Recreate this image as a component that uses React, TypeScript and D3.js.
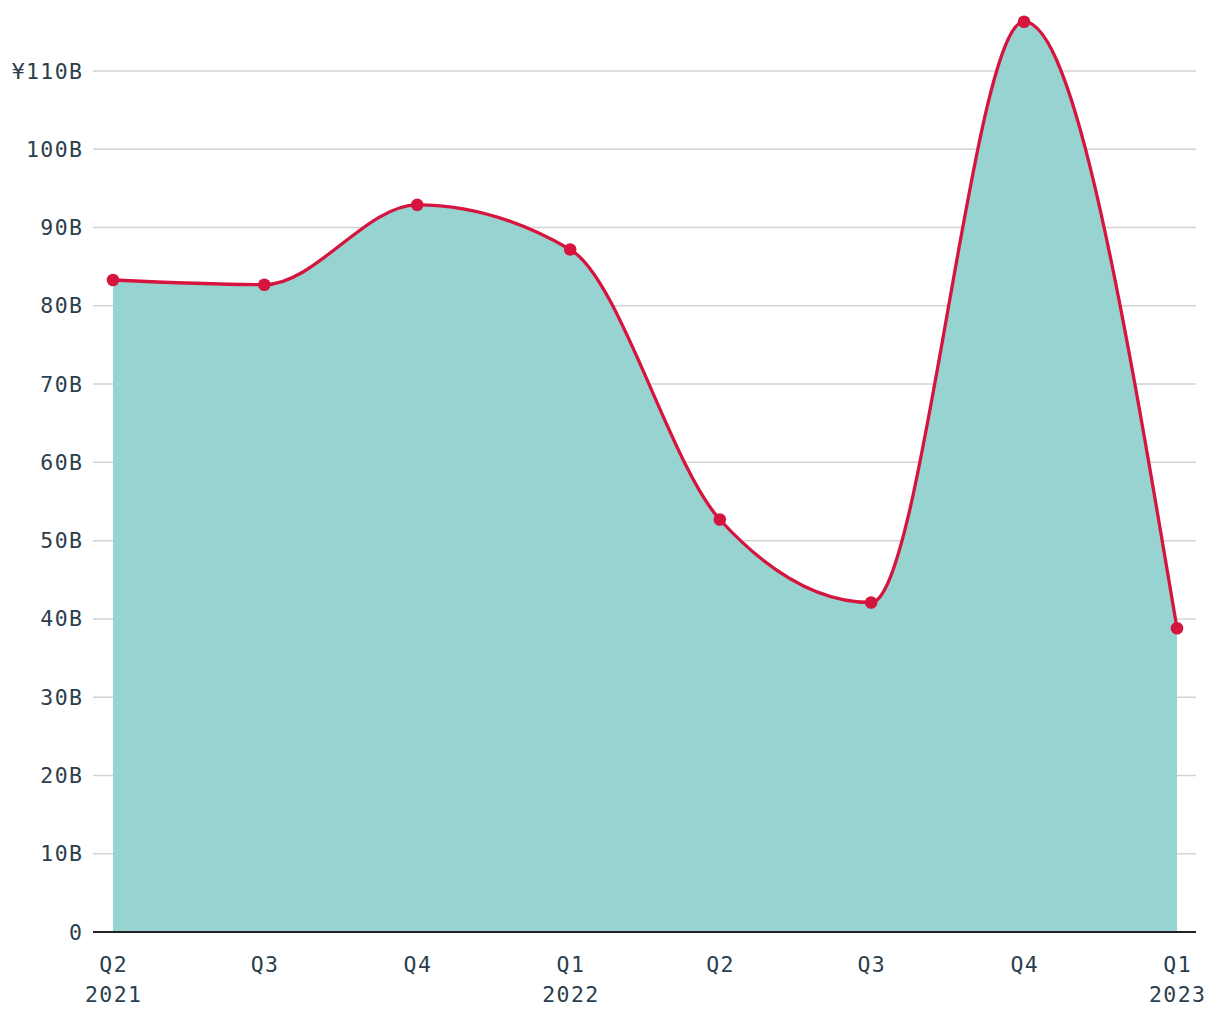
import React from "react";
import * as d3 from "d3";

const quarterStarts = ["2021-04-01", "2021-07-01", "2021-10-01", "2022-01-01", "2022-04-01", "2022-07-01", "2022-10-01", "2023-01-01"];
const quarters = ["Q2", "Q3", "Q4", "Q1", "Q2", "Q3", "Q4", "Q1"];
const years = ["2021", "", "", "2022", "", "", "", "2023"];
const values = [83.3, 82.7, 92.9, 87.2, 52.7, 42.1, 116.3, 38.8];
const yTicks = [0, 10, 20, 30, 40, 50, 60, 70, 80, 90, 100, 110];

export default function App() {
  const W = 1220, H = 1020;
  const left = 93, right = 1196, top = 71, bottom = 932;
  const dates = quarterStarts.map(s => new Date(s + "T00:00:00Z"));
  const x = d3.scaleUtc().domain([dates[0], dates[dates.length - 1]]).range([113, 1177]);
  const y = d3.scaleLinear().domain([0, 110]).range([bottom, top]);
  const area = d3.area<number>().x((_, i) => x(dates[i])).y0(y(0)).y1(d => y(d)).curve(d3.curveMonotoneX);
  const line = d3.line<number>().x((_, i) => x(dates[i])).y(d => y(d)).curve(d3.curveMonotoneX);
  const font = "'DejaVu Sans Mono', monospace";
  const textColor = "#2c3e4c";
  const fs = 21.5;
  const ls = 1.4;
  return (
    <svg width={W} height={H} style={{ position: "absolute", left: 0, top: 0 }}>
      <rect width={W} height={H} fill="#fff" />
      {yTicks.map(t => (
        <g key={t}>
          {t > 0 && <line x1={left} x2={right} y1={y(t)} y2={y(t)} stroke="#d3d3d3" strokeWidth={1.5} />}
          <text x={82 + ls} y={y(t)} dy="0.35em" textAnchor="end" fontFamily={font} fontSize={fs} letterSpacing={ls} fill={textColor}>
            {t === 110 ? "¥110B" : t === 0 ? "0" : `${t}B`}
          </text>
        </g>
      ))}
      <path d={area(values)!} fill="#97d4d1" />
      <line x1={left} x2={right} y1={bottom} y2={bottom} stroke="#222" strokeWidth={2} />
      <path d={line(values)!} fill="none" stroke="#d6153f" strokeWidth={3.3} />
      {values.map((v, i) => (
        <circle key={i} cx={x(dates[i])} cy={y(v)} r={6.3} fill="#d6153f" />
      ))}
      {quarters.map((q, i) => (
        <g key={i}>
          <text x={x(dates[i]) + ls / 2} y={964} dy="0.35em" textAnchor="middle" fontFamily={font} fontSize={fs} letterSpacing={ls} fill={textColor}>{q}</text>
          {years[i] && <text x={x(dates[i]) + ls / 2} y={994} dy="0.35em" textAnchor="middle" fontFamily={font} fontSize={fs} letterSpacing={ls} fill={textColor}>{years[i]}</text>}
        </g>
      ))}
    </svg>
  );
}
